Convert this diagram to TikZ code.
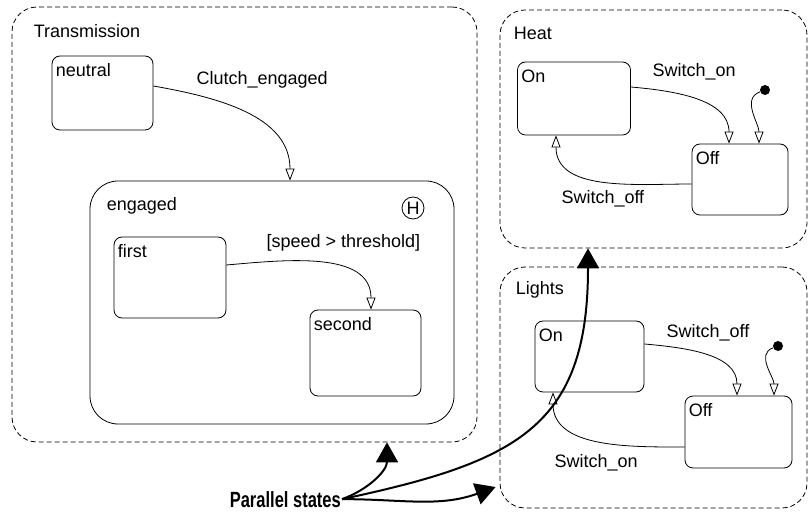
\documentclass[tikz,border=0pt]{standalone}
\usepackage{fontspec}
\setmainfont{Liberation Sans}
\newfontfamily\parfont[FakeStretch=0.75]{Liberation Sans}
\usetikzlibrary{arrows.meta}

\begin{document}
\begin{tikzpicture}[x=1pt, y=1pt,
    every node/.style={font=\fontsize{18}{21}\selectfont},
    chart/.style={draw, dash pattern=on 5pt off 3pt, rounded corners=25pt, line width=0.8pt},
    state/.style={draw, rounded corners=8pt, line width=0.8pt},
    tag/.style={anchor=north west, inner sep=0pt, xshift=4pt, yshift=-8pt},
    ctag/.style={anchor=north west, inner sep=0pt},
    hist/.style={draw, circle, minimum size=22pt, inner sep=0pt, line width=0.8pt},
    dot/.style={circle, fill, inner sep=0pt, minimum size=10pt},
    tr/.style={-{Triangle[open, length=12pt, width=9pt]}, line width=0.8pt},
    heavy/.style={-{Triangle[length=20pt, width=22pt]}, line width=2pt}
]
    \useasboundingbox (0,0) rectangle (810,511);

    % Transmission (left parallel state)
    \node[chart, minimum width=465pt, minimum height=435pt,
          label={[ctag, xshift=22pt, yshift=-18pt]north west:Transmission}] (trans) at (244.5,286.5) {};
    \node[state, minimum width=101pt, minimum height=74pt,
          label={[tag]north west:neutral}] (neutral) at (102.5,418) {};
    \node[state, rounded corners=28pt, minimum width=364pt, minimum height=243pt,
          label={[ctag, xshift=17pt, yshift=-17pt]north west:engaged}] (engaged) at (272,208.5) {};
    \node[hist] (hist) at (413,303) {H};
    \node[state, minimum width=112pt, minimum height=81pt,
          label={[tag]north west:first}] (first) at (170,233.5) {};
    \node[state, minimum width=111pt, minimum height=86pt,
          label={[tag]north west:second}] (second) at (365.5,158) {};

    \draw[tr] ([yshift=7pt]neutral.east) to[out=-10, in=90] ([xshift=18pt]engaged.north);
    \node[anchor=base west] (clutch) at (193,426) {Clutch\_engaged};
    \draw[tr] ([yshift=12.5pt]first.east) to[out=5, in=90] ([xshift=5.5pt]second.north);
    \node[anchor=base west] (speed) at (263,263) {[speed > threshold]};

    % Heat
    \node[chart, minimum width=307pt, minimum height=238pt,
          label={[ctag, xshift=14pt, yshift=-17pt]north west:Heat}] (heat) at (653.5,382) {};
    \node[state, minimum width=113pt, minimum height=73pt,
          label={[tag]north west:On}] (heatOn) at (574,412.5) {};
    \node[state, minimum width=96pt, minimum height=71pt,
          label={[tag]north west:Off}] (heatOff) at (740,331.5) {};
    \node[dot] (heatInit) at (765,421) {};

    \draw[tr] ([yshift=11.5pt]heatOn.east) to[out=-5, in=90] ([xshift=-11pt]heatOff.north);
    \draw[tr] (heatInit) to[out=200, in=90] ([xshift=19pt]heatOff.north);
    \draw[tr] ([yshift=-4.5pt]heatOff.west) to[out=180, in=-90] ([xshift=-18pt]heatOn.south);
    \node[anchor=base west] (heatSwOn) at (649,434) {Switch\_on};
    \node[anchor=base west] (heatSwOff) at (558,307) {Switch\_off};

    % Lights
    \node[chart, minimum width=307pt, minimum height=241pt,
          label={[ctag, xshift=16pt, yshift=-15pt]north west:Lights}] (lights) at (653.5,123.5) {};
    \node[state, minimum width=109pt, minimum height=71pt,
          label={[tag]north west:On}] (lightsOn) at (589.5,154.5) {};
    \node[state, minimum width=107pt, minimum height=72pt,
          label={[tag]north west:Off}] (lightsOff) at (738.5,79) {};
    \node[dot] (lightsInit) at (778,165) {};

    \draw[tr] ([yshift=12.5pt]lightsOn.east) to[out=-5, in=90] ([xshift=-1.5pt]lightsOff.north);
    \draw[tr] (lightsInit) to[out=200, in=90] ([xshift=35.5pt]lightsOff.north);
    \draw[tr] ([yshift=-15pt]lightsOff.west) to[out=180, in=-90] ([xshift=-36.5pt]lightsOn.south);
    \node[anchor=base west] (lightsSwOff) at (663,173) {Switch\_off};
    \node[anchor=base west] (lightsSwOn) at (551,44) {Switch\_on};

    % Callout
    \node[anchor=base east, inner sep=1pt, font=\parfont\bfseries\fontsize{22}{24}\selectfont] (par) at (342,4) {Parallel states};
    \draw[heavy] (par.east) to[out=20, in=-90] ([xshift=142.5pt]trans.south);
    \draw[heavy] (par.east) to[out=12, in=-90, looseness=1.3] ([xshift=-65.5pt]heat.south);
    \draw[heavy] (par.east) to[out=0, in=200] ([xshift=-4pt, yshift=-99.5pt]lights.west);

\end{tikzpicture}
\end{document}
